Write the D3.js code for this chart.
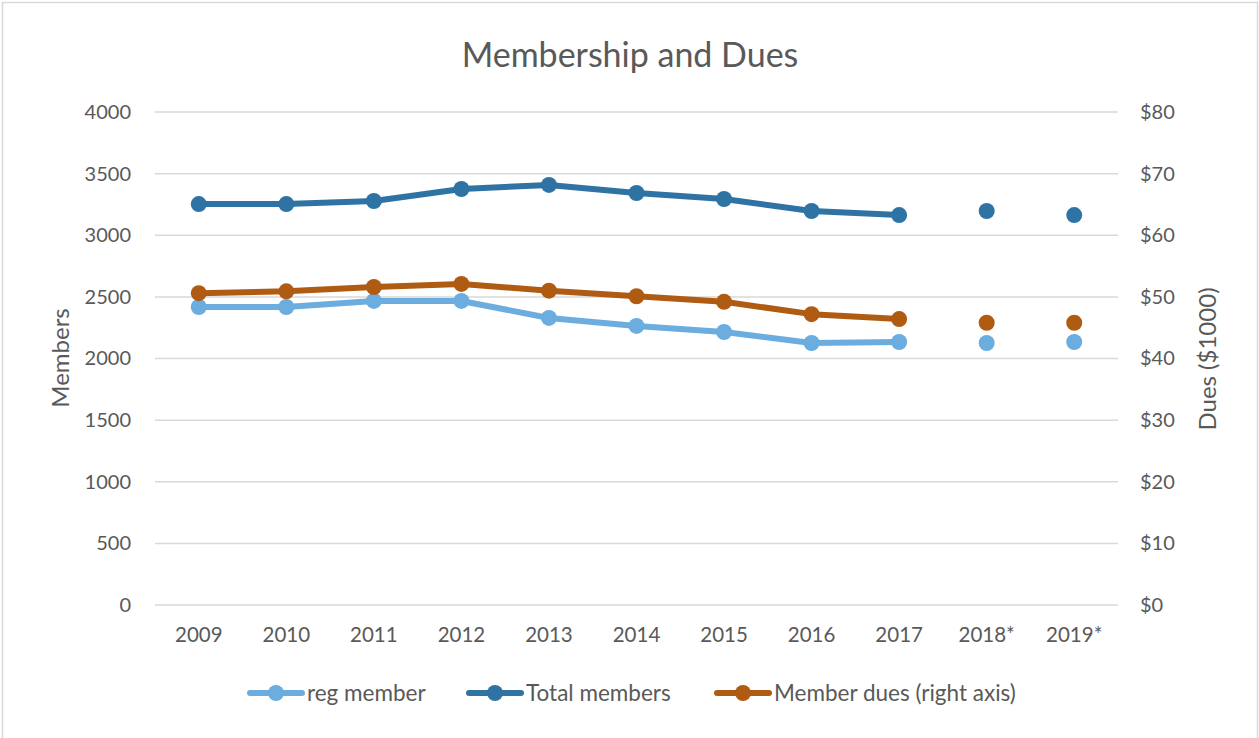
<!DOCTYPE html>
<html><head><meta charset="utf-8">
<script src="https://cdn.jsdelivr.net/npm/d3@7"></script>
<style>
html,body{margin:0;padding:0;background:#fff;}
svg{display:block;font-family:Lato,"Open Sans",sans-serif;}
</style></head>
<body>
<svg id="chart" width="1259" height="738"></svg>
<script>
const categories = ["2009","2010","2011","2012","2013","2014","2015","2016","2017","2018*","2019*"];
const regMember = [2418,2418,2467,2467,2329,2264,2215,2126,2134,2126,2134];
const totalMembers = [3253,3253,3278,3375,3408,3343,3294,3197,3164,3197,3164];
const memberDues = [50.6,50.9,51.6,52.1,51.0,50.1,49.2,47.2,46.4,45.8,45.8];
const connected = [true,true,true,true,true,true,true,true,true,false,false];
const leftTicks = [0,500,1000,1500,2000,2500,3000,3500,4000];
const rightTicks = [0,10,20,30,40,50,60,70,80];

const svg = d3.select("#chart");
const W = 1259, H = 738;
const plot = {l:155, r:1118, t:112, b:605};
const textColor = "#595959";
const ff = "Lato,'Open Sans',sans-serif";

svg.append("rect").attr("x",2.5).attr("y",2.5).attr("width",W-4).attr("height",H+10)
  .attr("fill","#fff").attr("stroke","#d9d9d9").attr("stroke-width",1.5);

const x = d3.scaleBand().domain(categories).range([plot.l, plot.r]);
const yL = d3.scaleLinear().domain([0,4000]).range([plot.b, plot.t]);
const yR = d3.scaleLinear().domain([0,80]).range([plot.b, plot.t]);
const cx = c => x(c) + x.bandwidth()/2;

// gridlines
svg.append("g").selectAll("line").data(leftTicks).join("line")
  .attr("x1",plot.l).attr("x2",plot.r)
  .attr("y1",d=>yL(d)).attr("y2",d=>yL(d))
  .attr("stroke","#d9d9d9").attr("stroke-width",1.5);

// left axis
const gL = svg.append("g").attr("transform",`translate(${plot.l},0)`)
  .call(d3.axisLeft(yL).tickValues(leftTicks).tickSize(0).tickPadding(24).tickFormat(d=>String(d)));
gL.select(".domain").remove();
gL.selectAll("text").attr("fill",textColor).style("font-size","20px").style("font-family",ff);

// right axis
const gR = svg.append("g").attr("transform",`translate(${plot.r},0)`)
  .call(d3.axisRight(yR).tickValues(rightTicks).tickSize(0).tickPadding(22).tickFormat(d=>"$"+d));
gR.select(".domain").remove();
gR.selectAll("text").attr("fill",textColor).style("font-size","20px").style("font-family",ff);

// bottom axis
const gB = svg.append("g").attr("transform",`translate(0,${plot.b})`)
  .call(d3.axisBottom(x).tickSize(0).tickPadding(22));
gB.select(".domain").remove();
gB.selectAll("text").attr("fill",textColor).style("font-size","20.5px").style("font-family",ff);

// title
svg.append("text").attr("x",630).attr("y",67).attr("text-anchor","middle")
  .attr("fill",textColor).style("font-size","34px").text("Membership and Dues");

// axis titles
svg.append("text").attr("transform","translate(69,358) rotate(-90)").attr("text-anchor","middle")
  .attr("fill",textColor).style("font-size","24px").text("Members");
svg.append("text").attr("transform","translate(1216,359) rotate(-90)").attr("text-anchor","middle")
  .attr("fill",textColor).style("font-size","24px").text("Dues ($1000)");

const series = [
  {name:"reg member", values:regMember, y:yL, color:"#6caddf"},
  {name:"Total members", values:totalMembers, y:yL, color:"#2e73a3"},
  {name:"Member dues (right axis)", values:memberDues, y:yR, color:"#b05b12"}
];

series.forEach(s => {
  const pts = categories.map((c,i)=>({c, v:s.values[i], conn:connected[i]}));
  const line = d3.line().defined(d=>d.conn).x(d=>cx(d.c)).y(d=>s.y(d.v));
  svg.append("path").datum(pts).attr("d",line).attr("fill","none")
    .attr("stroke",s.color).attr("stroke-width",6).attr("stroke-linejoin","round");
  svg.append("g").selectAll("circle").data(pts).join("circle")
    .attr("cx",d=>cx(d.c)).attr("cy",d=>s.y(d.v)).attr("r",8).attr("fill",s.color);
});

// legend
const legendX = [250, 469, 717];
const lg = svg.append("g");
series.forEach((s,i) => {
  const g = lg.append("g").attr("transform",`translate(${legendX[i]},693)`);
  g.append("line").attr("x1",0).attr("x2",52).attr("y1",0).attr("y2",0)
    .attr("stroke",s.color).attr("stroke-width",6).attr("stroke-linecap","round");
  g.append("circle").attr("cx",26).attr("cy",0).attr("r",8).attr("fill",s.color);
  g.append("text").attr("x",57).attr("y",8).attr("fill",textColor)
    .style("font-size","22.5px").text(s.name);
});
</script>
</body></html>
